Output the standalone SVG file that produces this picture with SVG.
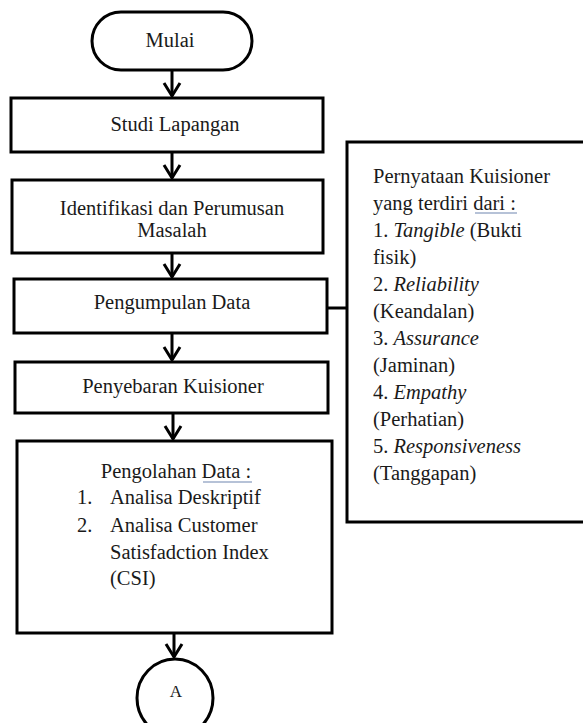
<svg xmlns="http://www.w3.org/2000/svg" width="583" height="723" viewBox="0 0 583 723">
<defs>
<style>
.box{fill:#fff;stroke:#000;stroke-width:3}
text{font-family:'Liberation Serif','DejaVu Serif',serif;font-size:20.5px;fill:#1a1a1a}
.c{text-anchor:middle}
.i{font-style:italic}
.ln{stroke:#000;stroke-width:3;fill:none}
.hd{stroke:#000;stroke-width:3;fill:none;stroke-linejoin:miter}
.ul{stroke:#6f86b0;stroke-width:1.2}
</style>
</defs>
<rect width="583" height="723" fill="#fff"/>
<g id="connectors">
<path class="ln" d="M172,70 V96"/><path class="hd" d="M164,83 L172,96 L180,83"/>
<path class="ln" d="M172,152 V178"/><path class="hd" d="M164,165 L172,178 L180,165"/>
<path class="ln" d="M172,253 V277"/><path class="hd" d="M164,264 L172,277 L180,264"/>
<path class="ln" d="M172,333 V360"/><path class="hd" d="M164,347 L172,360 L180,347"/>
<path class="ln" d="M173,413 V439"/><path class="hd" d="M165,426 L173,439 L181,426"/>
<path class="ln" d="M174,633 V657"/><path class="hd" d="M166,644 L174,657 L182,644"/>
<path class="ln" d="M327,308 H347"/>
</g>
<g id="mulai">
<rect class="box" x="92" y="12" width="160" height="58" rx="29" ry="29"/>
<text class="c" x="170" y="47">Mulai</text>
</g>
<g id="studi">
<rect class="box" x="11" y="98" width="312" height="54"/>
<text class="c" x="175" y="131">Studi Lapangan</text>
</g>
<g id="identifikasi">
<rect class="box" x="12" y="180" width="311" height="73"/>
<text class="c" x="172" y="215">Identifikasi dan Perumusan</text>
<text class="c" x="172" y="237">Masalah</text>
</g>
<g id="pengumpulan">
<rect class="box" x="14" y="279" width="313" height="54"/>
<text class="c" x="172" y="309">Pengumpulan Data</text>
</g>
<g id="penyebaran">
<rect class="box" x="15" y="362" width="313" height="51"/>
<text class="c" x="173" y="393">Penyebaran Kuisioner</text>
</g>
<g id="pengolahan">
<rect class="box" x="17" y="441" width="315" height="192"/>
<text class="c" x="176" y="478">Pengolahan Data :</text>
<line class="ul" x1="203" y1="482" x2="252" y2="482"/>
<text x="77" y="504">1.</text>
<text x="110" y="504">Analisa Deskriptif</text>
<text x="77" y="532">2.</text>
<text x="110" y="532">Analisa Customer</text>
<text x="110" y="559">Satisfadction Index</text>
<text x="110" y="585">(CSI)</text>
</g>
<g id="konektorA">
<ellipse class="box" cx="175" cy="698" rx="38" ry="39"/>
<text class="c" x="176" y="697" style="font-size:17px">A</text>
</g>
<g id="kuisioner">
<rect class="box" x="347" y="142" width="250" height="380"/>
<text x="373" y="183">Pernyataan Kuisioner</text>
<text x="373" y="210">yang terdiri dari :</text>
<line class="ul" x1="475" y1="213" x2="517" y2="213"/>
<text x="373" y="237">1. <tspan class="i">Tangible</tspan> (Bukti</text>
<text x="373" y="264">fisik)</text>
<text x="373" y="291">2. <tspan class="i">Reliability</tspan></text>
<text x="373" y="318">(Keandalan)</text>
<text x="373" y="345">3. <tspan class="i">Assurance</tspan></text>
<text x="373" y="372">(Jaminan)</text>
<text x="373" y="399">4. <tspan class="i">Empathy</tspan></text>
<text x="373" y="426">(Perhatian)</text>
<text x="373" y="453">5. <tspan class="i">Responsiveness</tspan></text>
<text x="373" y="480">(Tanggapan)</text>
</g>
</svg>
